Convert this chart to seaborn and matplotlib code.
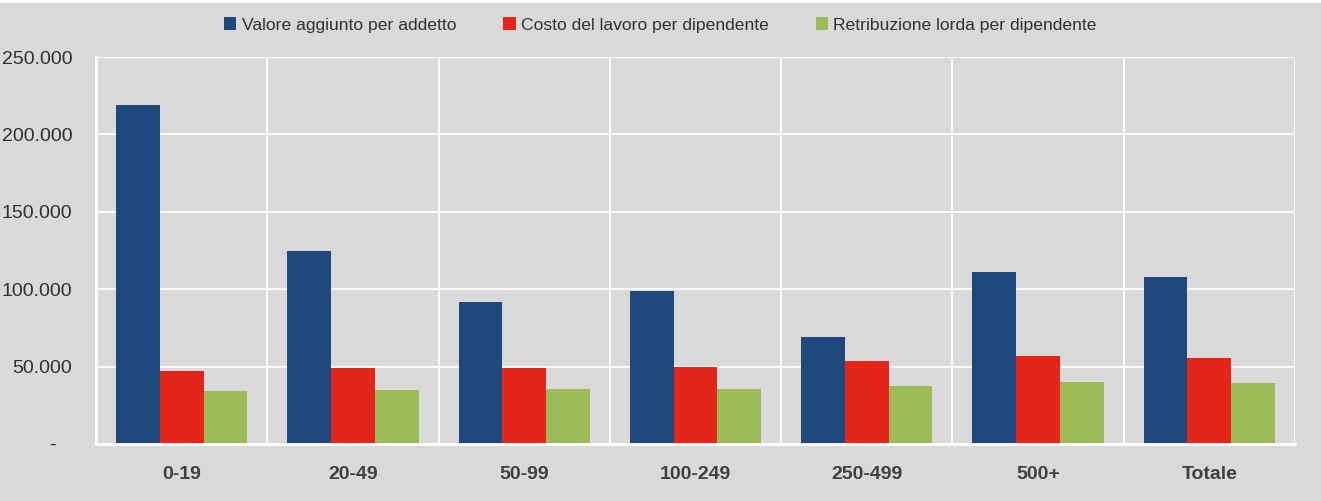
import matplotlib
matplotlib.use("Agg")
import matplotlib.pyplot as plt
import seaborn as sns
import pandas as pd
from matplotlib.ticker import FuncFormatter, FixedLocator

categories = ["0-19", "20-49", "50-99", "100-249", "250-499", "500+", "Totale"]
series_names = ["Valore aggiunto per addetto", "Costo del lavoro per dipendente",
                "Retribuzione lorda per dipendente"]
valore_aggiunto = [219000, 124500, 91500, 98500, 69000, 110800, 107600]
costo_lavoro = [47300, 49000, 49200, 49600, 53500, 56800, 55500]
retribuzione = [34200, 34900, 35400, 35500, 37400, 39900, 39300]
y_ticks = [0, 50000, 100000, 150000, 200000, 250000]
colors = ["#1F497D", "#E32619", "#9BBB59"]

rows = []
for name, vals in zip(series_names, [valore_aggiunto, costo_lavoro, retribuzione]):
    for c, v in zip(categories, vals):
        rows.append({"Classe": c, "Serie": name, "Valore": v})
df = pd.DataFrame(rows)

sns.set_theme(style="white")
plt.rcParams["font.family"] = ["Liberation Sans Narrow", "Liberation Sans", "DejaVu Sans"]

bg = "#D9D9D9"
fig = plt.figure(figsize=(13.21, 5.01), dpi=100, facecolor=bg)
ax = fig.add_axes([0.0727, 0.114, 0.9075, 0.772])
ax.set_facecolor(bg)

sns.barplot(data=df, x="Classe", y="Valore", hue="Serie", order=categories,
            hue_order=series_names, palette=colors, width=0.766, ax=ax,
            saturation=1, errorbar=None, linewidth=0)

ax.set_xlim(-0.5, len(categories) - 0.5)
ax.set_ylim(0, 250000)
ax.set_yticks(y_ticks)

def fmt(v, pos):
    if v == 0:
        return "-   "
    return f"{int(v):,}".replace(",", ".")
ax.yaxis.set_major_formatter(FuncFormatter(fmt))

ax.xaxis.set_minor_locator(FixedLocator([i - 0.5 for i in range(len(categories) + 1)]))
ax.tick_params(axis="x", which="major", length=0, pad=16, labelsize=14, colors="#404040")
ax.tick_params(axis="x", which="minor", length=7, width=1.5, color="white")
ax.tick_params(axis="y", which="major", length=7, width=1.5, color="white",
               labelsize=14, labelcolor="#303030", pad=10)
for lbl in ax.get_xticklabels():
    lbl.set_fontweight("bold")

ax.grid(axis="y", which="major", color="white", linewidth=1.3)
ax.grid(axis="x", which="minor", color="white", linewidth=1.3)
ax.grid(axis="x", which="major", visible=False)
ax.set_axisbelow(True)

for s in ["top", "right"]:
    ax.spines[s].set_visible(False)
for s in ["left", "bottom"]:
    ax.spines[s].set_color("white")
    ax.spines[s].set_linewidth(2)

ax.set_xlabel("")
ax.set_ylabel("")

handles, labels = ax.get_legend_handles_labels()
ax.legend_.remove()
fig.legend(handles, labels, loc="center", bbox_to_anchor=(0.5, 0.95), ncol=3,
           frameon=False, fontsize=12.6, handlelength=0.7, handleheight=0.7,
           handletextpad=0.3, columnspacing=2.7, labelcolor="#303030")

fig.patches.append(plt.Rectangle((0, 1 - 3 / 501), 1, 3 / 501, transform=fig.transFigure,
                                 facecolor="white", edgecolor="none", zorder=10))

fig.savefig("out.png", dpi=100, facecolor=bg)
